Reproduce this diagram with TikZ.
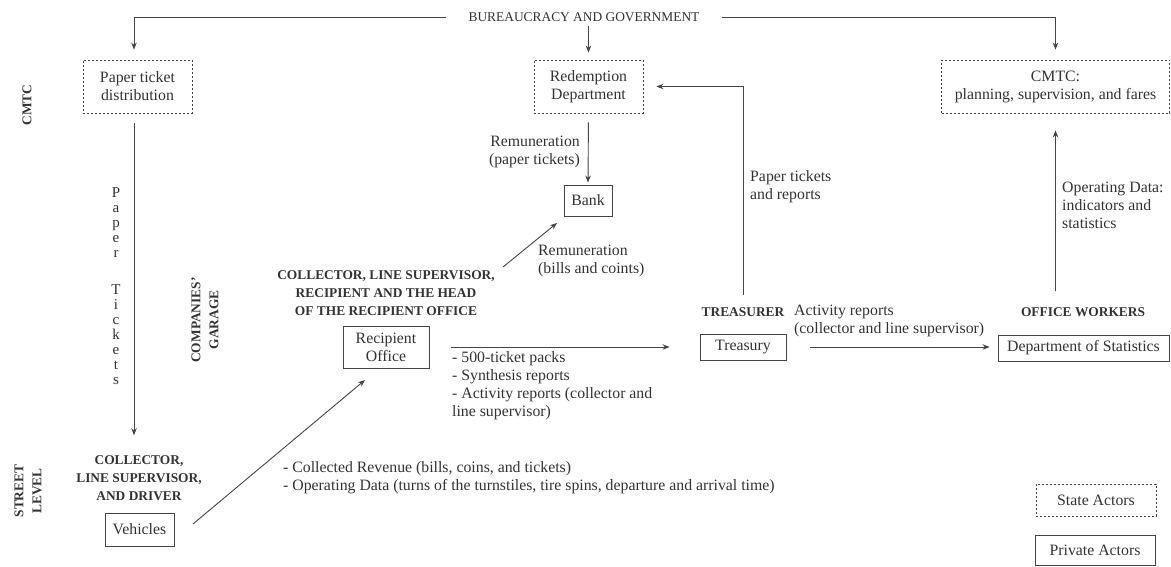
\documentclass[tikz,border=0pt]{standalone}
\usepackage{fontspec}
\setmainfont{Liberation Serif}
\usetikzlibrary{arrows.meta}
\definecolor{txt}{HTML}{333333}
\definecolor{ln}{HTML}{444444}
\newcommand{\fsz}{\fontsize{15.8}{18}\selectfont}
\newcommand{\fszh}{\fontsize{13.4}{18}\selectfont}
\newcommand{\fszv}{\fontsize{15}{15}\selectfont}
\tikzset{
  every node/.style={font=\fsz, text=txt, inner sep=0pt},
  statebox/.style={draw=ln, line width=0.9pt, dash pattern=on 2pt off 2pt, align=center},
  privbox/.style={draw=ln, line width=0.9pt, align=center},
  head/.style={font=\fszh\bfseries, align=center},
  lbl/.style={align=left},
  arr/.style={draw=ln, line width=0.9pt, -{Stealth[length=7pt,width=5.5pt]}},
}
\begin{document}
\begin{tikzpicture}[x=1pt,y=-1pt]
\useasboundingbox (0,0) rectangle (1171,567);
% side labels
\node[head, rotate=90] (cmtcside) at (27,105) {CMTC};
\node[head, rotate=90] (garage) at (205,320) {COMPANIES’\\GARAGE};
\node[head, rotate=90] (street) at (28,491) {STREET\\LEVEL};
% top
\node[font=\fszh, inner xsep=22pt, inner ysep=4pt] (gov) at (584,17) {BUREAUCRACY AND GOVERNMENT};
% state boxes
\node[statebox, minimum width=109pt, minimum height=53pt] (ptd) at (137.5,86.5) {Paper ticket\\distribution};
\node[statebox, minimum width=109pt, minimum height=53pt] (red) at (588.5,86.5) {Redemption\\Department};
\node[statebox, minimum width=228pt, minimum height=53pt] (cmtc) at (1055.5,86.5) {CMTC:\\planning, supervision, and fares};
% private boxes
\node[privbox, minimum width=48pt, minimum height=31pt] (bank) at (588,200.5) {Bank};
\node[privbox, minimum width=86pt, minimum height=42pt] (rec) at (386,347) {Recipient\\Office};
\node[privbox, minimum width=86pt, minimum height=26pt] (treas) at (743,347) {Treasury};
\node[privbox, minimum width=171pt, minimum height=26pt] (stats) at (1083.5,348) {Department of Statistics};
\node[privbox, minimum width=69pt, minimum height=33pt] (veh) at (139.5,529.5) {Vehicles};
\node[statebox, minimum width=120pt, minimum height=32pt] (stateleg) at (1096,500) {State Actors};
\node[privbox, minimum width=120pt, minimum height=30pt] (privleg) at (1095,550) {Private Actors};
% headings
\node[head] (hveh) at (139,478) {COLLECTOR,\\LINE SUPERVISOR,\\AND DRIVER};
\node[head] (hrec) at (386,293) {COLLECTOR, LINE SUPERVISOR,\\RECIPIENT AND THE HEAD\\OF THE RECIPIENT OFFICE};
\node[head] (htr) at (743,312) {TREASURER};
\node[head] (how) at (1083,312) {OFFICE WORKERS};
% labels
\node[align=center, font=\fszv] (ptlbl) at (116,286.5) {P\\a\\p\\e\\r\\[22pt]T\\i\\c\\k\\e\\t\\s};
\node[align=right, anchor=east] (remp) at (580,152) {Remuneration\\(paper tickets)};
\node[lbl, anchor=west] (remb) at (538,261) {Remuneration\\(bills and coints)};
\node[lbl, anchor=west] (ptr) at (750,187) {Paper tickets\\and reports};
\node[lbl, anchor=west] (opd) at (1062,205) {Operating Data:\\indicators and\\statistics};
\node[lbl, anchor=west] (act) at (794,321) {Activity reports\\(collector and line supervisor)};
\node[lbl, anchor=west] (packs) at (452,386) {- 500-ticket packs\\- Synthesis reports\\- Activity reports (collector and\\line supervisor)};
\node[lbl, anchor=west] (coll) at (283,478) {- Collected Revenue (bills, coins, and tickets)\\- Operating Data (turns of the turnstiles, tire spins, departure and arrival time)};
% coordinates for free ends
\coordinate (rb1) at (503,267);
\coordinate (rb2) at (557,223);
\coordinate (vr1) at (193,524);
\coordinate (vr2) at (365,380);
\coordinate (ptdn) at ([xshift=-3.5pt]ptd.north);
\coordinate (ptds) at ([xshift=-3.5pt]ptd.south);
% connectors
\draw[arr, shorten >=10pt] (gov.west) -| (ptdn);
\draw[arr, shorten >=10pt] (gov.east) -| (cmtc.north);
\draw[arr, shorten >=7pt] (gov.south -| red.north) -- (red.north);
\draw[arr, shorten <=10pt, shorten >=20pt] (ptds) -- (ptds |- hveh.north);
\draw[arr, shorten <=9pt, shorten >=2pt] (red.south) -- (bank.north);
\draw[arr] (rb1) -- (rb2);
\draw[arr] (vr1) -- (vr2);
\draw[arr, shorten <=22pt, shorten >=30pt] (rec.east |- treas.west) -- (treas.west);
\draw[arr, shorten <=24pt, shorten >=8pt] (treas.east) -- (treas.east -| stats.west);
\draw[arr, shorten <=12pt, shorten >=13pt] (htr.north) |- (red.east);
\draw[arr, shorten <=16pt, shorten >=17pt] (cmtc.south |- how.north) -- (cmtc.south);
\end{tikzpicture}
\end{document}
